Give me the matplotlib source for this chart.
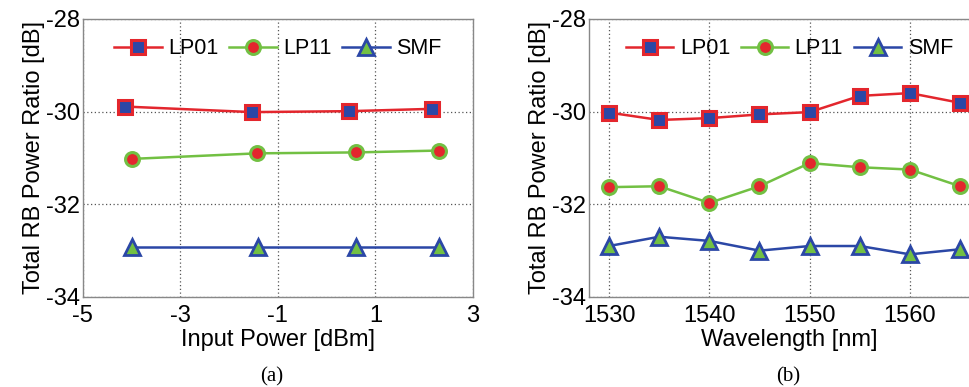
import matplotlib.pyplot as plt

plt.rcParams['font.family'] = ['Liberation Sans', 'DejaVu Sans']
plt.rcParams['axes.unicode_minus'] = False

# (a) Input power sweep
pow_lp01 = [-4.14, -1.53, 0.46, 2.16]
pow_lp11 = [-4.0, -1.42, 0.6, 2.3]
pow_smf = [-4.0, -1.41, 0.61, 2.31]
a_lp01 = [-29.89, -30.01, -29.99, -29.94]
a_lp11 = [-31.02, -30.90, -30.88, -30.84]
a_smf = [-32.92, -32.92, -32.92, -32.92]

# (b) Wavelength sweep
wl = [1530, 1535, 1540, 1545, 1550, 1555, 1560, 1565]
b_lp01 = [-30.02, -30.18, -30.14, -30.06, -30.01, -29.66, -29.60, -29.81]
b_lp11 = [-31.63, -31.61, -31.97, -31.61, -31.11, -31.20, -31.25, -31.61]
b_smf = [-32.90, -32.70, -32.79, -33.00, -32.90, -32.90, -33.08, -32.97]

red = '#e3262d'
green = '#72c043'
blue = '#2b47a6'

styles = {
    'LP01': dict(color=red, marker='s', markerfacecolor=blue, markeredgecolor=red, markersize=9.5, markeredgewidth=2.2),
    'LP11': dict(color=green, marker='o', markerfacecolor=red, markeredgecolor=green, markersize=10, markeredgewidth=2.2),
    'SMF': dict(color=blue, marker='^', markerfacecolor=green, markeredgecolor=blue, markersize=11, markeredgewidth=2.0),
}

fig = plt.figure(figsize=(9.7, 3.87), dpi=100)
ax1 = fig.add_axes([0.0853, 0.2326, 0.4023, 0.7184])
ax2 = fig.add_axes([0.6072, 0.2326, 0.4136, 0.7184])

ax1.plot(pow_lp01, a_lp01, label='LP01', lw=1.8, **styles['LP01'])
ax1.plot(pow_lp11, a_lp11, label='LP11', lw=1.8, **styles['LP11'])
ax1.plot(pow_smf, a_smf, label='SMF', lw=1.8, **styles['SMF'])
ax1.set_xlim(-5, 3)
ax1.set_xticks([-5, -3, -1, 1, 3])
ax1.set_xlabel('Input Power [dBm]', fontsize=17, labelpad=1)

ax2.plot(wl, b_lp01, label='LP01', lw=1.8, **styles['LP01'])
ax2.plot(wl, b_lp11, label='LP11', lw=1.8, **styles['LP11'])
ax2.plot(wl, b_smf, label='SMF', lw=1.8, **styles['SMF'])
ax2.set_xlim(1528, 1568)
ax2.set_xticks([1530, 1540, 1550, 1560])
ax2.set_xlabel('Wavelength [nm]', fontsize=17, labelpad=1)

for ax in (ax1, ax2):
    ax.set_ylim(-34, -28)
    ax.set_yticks([-34, -32, -30, -28])
    ax.set_ylabel('Total RB Power Ratio [dB]', fontsize=17, labelpad=1)
    ax.tick_params(labelsize=17, length=0)
    ax.tick_params(axis='y', pad=2)
    ax.tick_params(axis='x', pad=6)
    ax.grid(True, linestyle=(0, (1, 2)), color='#555555', linewidth=0.9)
    for s in ax.spines.values():
        s.set_color('#888888')
        s.set_linewidth(1.0)
    ax.legend(loc='upper center', ncol=3, frameon=False, fontsize=15.5,
              handlelength=2.2, columnspacing=0.5, handletextpad=0.3,
              bbox_to_anchor=(0.5, 1.0))

fig.text(0.2804, 0.015, '(a)', fontsize=15, family=['Liberation Serif'], ha='center')
fig.text(0.8124, 0.015, '(b)', fontsize=15, family=['Liberation Serif'], ha='center')

plt.savefig('out.png', dpi=100)
